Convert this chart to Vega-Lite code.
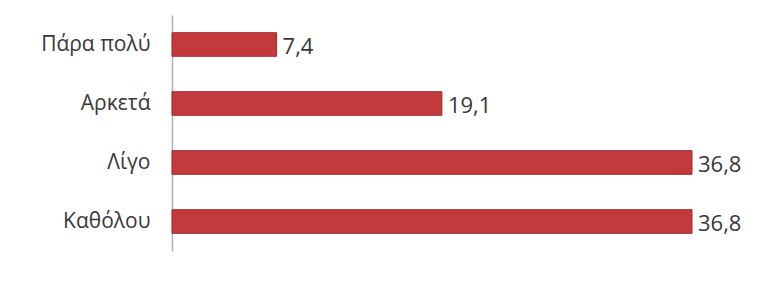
{
  "$schema": "https://vega.github.io/schema/vega-lite/v6.json",
  "autosize": "none",
  "width": 520,
  "height": 236,
  "padding": {"left": 172, "top": 15, "right": 65, "bottom": 30},
  "background": "white",
  "config": {
    "locale": {"number": {"decimal": ",", "thousands": ".", "grouping": [3], "currency": ["", " €"]}},
    "view": {"stroke": null},
    "font": "Open Sans"
  },
  "data": {"values": [
    {"cat": "Πάρα πολύ", "value": 7.4},
    {"cat": "Αρκετά", "value": 19.1},
    {"cat": "Λίγο", "value": 36.8},
    {"cat": "Καθόλου", "value": 36.8}
  ]},
  "encoding": {
    "y": {"field": "cat", "type": "nominal", "sort": null,
      "scale": {"paddingInner": 0.6, "paddingOuter": 0.3},
      "axis": {"title": null, "ticks": false, "domain": true, "domainColor": "#b0b0b0", "domainWidth": 1.5,
        "labelFontSize": 21, "labelColor": "#383838", "labelPadding": 22, "labelFont": "Open Sans"}},
    "x": {"field": "value", "type": "quantitative", "scale": {"domain": [0, 36.8], "nice": false},
      "axis": null}
  },
  "layer": [
    {"mark": {"type": "bar", "color": "#c43a3c", "stroke": "#9e2a2c", "strokeWidth": 1}},
    {"mark": {"type": "text", "align": "left", "dx": 6, "dy": 2, "fontSize": 22, "color": "#383838", "font": "Open Sans"},
     "encoding": {"text": {"field": "value", "type": "quantitative", "format": ".1f"}}}
  ]
}
